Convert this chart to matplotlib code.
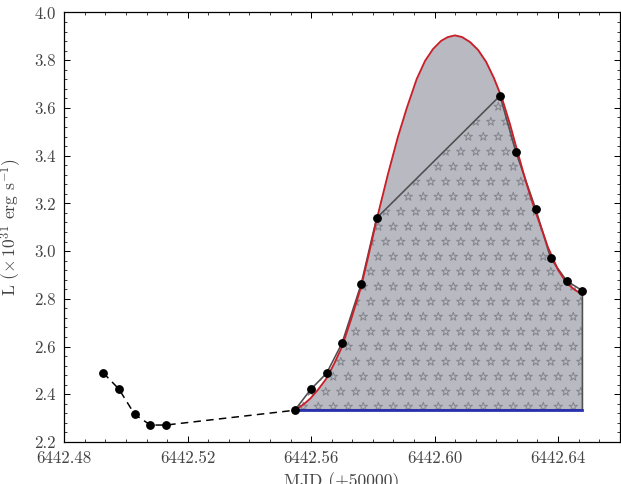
import matplotlib
matplotlib.use("Agg")
import matplotlib.pyplot as plt
import numpy as np
from matplotlib.ticker import MultipleLocator, AutoMinorLocator, FormatStrFormatter

plt.rcParams["font.family"] = "serif"
plt.rcParams["font.serif"] = ["cmr10"]
plt.rcParams["mathtext.fontset"] = "cm"
plt.rcParams["axes.formatter.use_mathtext"] = True

# pre-flare points (joined by a dashed line)
quiet_t = [6442.4926, 6442.4977, 6442.5028, 6442.5079, 6442.5129]
quiet_L = [2.490, 2.422, 2.316, 2.271, 2.271]

# flare points
flare_t = [6442.5547, 6442.5599, 6442.5650, 6442.5700, 6442.5762, 6442.5812,
           6442.6212, 6442.6263, 6442.6328, 6442.6376, 6442.6428, 6442.6479]
flare_L = [2.333, 2.421, 2.488, 2.614, 2.862, 3.138,
           3.651, 3.417, 3.175, 2.970, 2.875, 2.834]

# quiescent level
base_L = 2.335

# model curve
fit_t = [6442.5547, 6442.5573, 6442.5598, 6442.5624, 6442.5650, 6442.5675,
         6442.5700, 6442.5731, 6442.5762, 6442.5787, 6442.5812, 6442.5849,
         6442.5881, 6442.5910, 6442.5942, 6442.5969, 6442.5995, 6442.6021,
         6442.6043, 6442.6066, 6442.6089, 6442.6115, 6442.6141, 6442.6167,
         6442.6192, 6442.6218, 6442.6244, 6442.6267, 6442.6296, 6442.6325,
         6442.6348, 6442.6367, 6442.6400, 6442.6428, 6442.6455, 6442.6479]
fit_L = [2.333, 2.355, 2.383, 2.422, 2.467, 2.529,
         2.599, 2.720, 2.851, 2.988, 3.130, 3.323,
         3.478, 3.600, 3.721, 3.797, 3.847, 3.881,
         3.897, 3.904, 3.897, 3.876, 3.843, 3.793,
         3.726, 3.642, 3.533, 3.424, 3.290, 3.172,
         3.089, 3.017, 2.921, 2.866, 2.837, 2.818]

fig = plt.figure(figsize=(621 / 90, 484 / 90), dpi=90)
ax = fig.add_axes([0.1035, 0.0868, 0.8945, 0.8874])

# grey area under the model
ax.fill_between(fit_t, fit_L, base_L, color="#b9b9c2", lw=0, zorder=1)

# polygon under the data points, filled with open stars
poly_t = flare_t + [flare_t[-1], flare_t[0]]
poly_L = flare_L + [base_L, base_L]
clip = ax.fill(poly_t, poly_L, facecolor="none", edgecolor="none", zorder=2)[0]

# star pattern, 15 px grid with every other row shifted
dx, dy = 15 / 555.5, 15 / 429.5
sx, sy = [], []
for j, yy in enumerate(np.arange(0.3616 - 30 * dy, 1.0, dy)):
    shift = 0.0 if j % 2 == 0 else -dx / 2
    for xx in np.arange(0.5923 - 40 * dx + shift, 1.0, dx):
        sx.append(xx)
        sy.append(yy)
stars = ax.scatter(sx, sy, s=50, marker="*", facecolors="none",
                   edgecolors="#85858e", linewidths=0.8, transform=ax.transAxes, zorder=2)
stars.set_clip_path(clip)

ax.plot(poly_t, poly_L, color="#505050", lw=1.3, zorder=3)

ax.plot(fit_t, fit_L, color="#c8202a", lw=1.5, zorder=4)
ax.plot([flare_t[0], flare_t[-1]], [base_L, base_L], color="#2630b0", lw=2.2, zorder=5)

ax.plot(quiet_t + [flare_t[0]], quiet_L + [flare_L[0]], color="k", lw=1.2,
        ls=(0, (5, 3.5)), zorder=5)
ax.plot(quiet_t + flare_t, quiet_L + flare_L, "o", color="k", ms=6, zorder=6)

ax.set_xlim(6442.48, 6442.66)
ax.set_ylim(2.2, 4.0)
ax.xaxis.set_major_locator(MultipleLocator(0.04))
ax.xaxis.set_minor_locator(AutoMinorLocator(6))
ax.yaxis.set_major_locator(MultipleLocator(0.2))
ax.yaxis.set_minor_locator(AutoMinorLocator(5))
ax.xaxis.set_major_formatter(FormatStrFormatter("%.2f"))
ax.yaxis.set_major_formatter(FormatStrFormatter("%.1f"))
ax.tick_params(which="both", direction="in", top=True, right=True,
               labelsize=13.5, labelcolor="#444444", pad=7)
ax.tick_params(which="major", length=4.5)
ax.tick_params(which="minor", length=2.5)
for s in ax.spines.values():
    s.set_linewidth(1.0)

ax.set_xlabel("MJD (+50000)", fontsize=14, color="#444444", labelpad=5)
ax.set_ylabel(r"L ($\times\,10^{31}$ erg s$^{-1}$)", fontsize=14, color="#444444", labelpad=8)

fig.savefig("out.png", dpi=90)
